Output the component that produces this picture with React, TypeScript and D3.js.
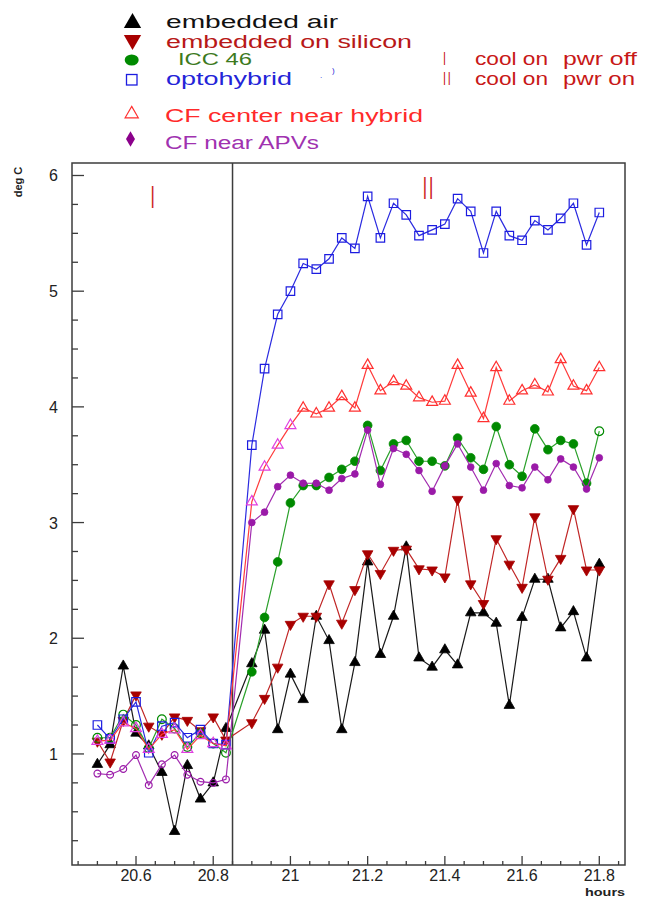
import * as d3 from 'd3'

// hours (2 minute readings, gap around the power switch)
const times = [
  20.5, 20.533, 20.567, 20.6, 20.633, 20.667, 20.7, 20.733, 20.767, 20.8, 20.833,
  20.9, 20.933, 20.967, 21.0, 21.033, 21.067, 21.1, 21.133, 21.167, 21.2, 21.233, 21.267, 21.3,
  21.333, 21.367, 21.4, 21.433, 21.467, 21.5, 21.533, 21.567, 21.6, 21.633, 21.667, 21.7, 21.733,
  21.767, 21.8,
]

const embeddedAir = [
  0.91, 1.08, 1.76, 1.18, 1.07, 0.84, 0.33, 0.9, 0.61, 0.75, 1.22,
  1.78, 2.07, 1.21, 1.69, 1.47, 2.19, 1.98, 1.21, 1.79, 2.66, 1.86, 2.19, 2.79,
  1.83, 1.75, 1.9, 1.77, 2.22, 2.22, 2.13, 1.42, 2.18, 2.51, 2.51, 2.09, 2.23, 1.83, 2.64,
]
const embeddedSilicon = [
  1.11, 0.93, 1.29, 1.51, 1.24, 1.17, 1.32, 1.29, 1.2, 1.32, 1.12,
  1.27, 1.48, 1.75, 2.12, 2.19, 2.19, 2.47, 2.13, 2.42, 2.73, 2.56, 2.76, 2.77,
  2.6, 2.59, 2.53, 3.2, 2.47, 2.3, 2.86, 2.64, 2.44, 3.05, 2.51, 2.69, 3.12, 2.59, 2.59,
]
const icc46 = [
  1.14, 1.14, 1.34, 1.25, 1.05, 1.3, 1.22, 1.06, 1.18, 1.09, 1.01,
  1.71, 2.18, 2.66, 3.17, 3.32, 3.32, 3.39, 3.46, 3.53, 3.84, 3.45, 3.68, 3.71,
  3.53, 3.53, 3.49, 3.73, 3.56, 3.46, 3.83, 3.5, 3.4, 3.81, 3.63, 3.71, 3.68, 3.34, 3.79,
]
const optohybrid = [
  1.25, 1.13, 1.3, 1.45, 1.01, 1.24, 1.27, 1.14, 1.21, 1.09, 1.08,
  3.67, 4.33, 4.8, 5.0, 5.24, 5.19, 5.28, 5.46, 5.37, 5.82, 5.46, 5.76, 5.66,
  5.48, 5.53, 5.58, 5.8, 5.69, 5.33, 5.69, 5.48, 5.44, 5.61, 5.53, 5.63, 5.76, 5.4, 5.68,
]
const cfCenterHybrid = [
  1.11, 1.12, 1.27, 1.22, 1.04, 1.17, 1.21, 1.04, 1.16, 1.09, 1.07,
  3.18, 3.48, 3.67, 3.84, 3.99, 3.94, 3.99, 4.09, 3.99, 4.36, 4.14, 4.22, 4.18,
  4.08, 4.04, 4.05, 4.36, 4.12, 3.9, 4.34, 4.05, 4.14, 4.19, 4.13, 4.41, 4.18, 4.14, 4.34,
]
const cfNearApvs = [
  0.83, 0.82, 0.87, 0.99, 0.73, 0.91, 0.99, 0.82, 0.76, 0.75, 0.78,
  3.0, 3.09, 3.31, 3.41, 3.34, 3.34, 3.28, 3.38, 3.42, 3.8, 3.33, 3.64, 3.59,
  3.45, 3.27, 3.49, 3.68, 3.48, 3.28, 3.51, 3.32, 3.3, 3.48, 3.37, 3.55, 3.48, 3.29, 3.56,
]

const yTicks = [1, 2, 3, 4, 5, 6]
const xTicks = [20.6, 20.8, 21, 21.2, 21.4, 21.6, 21.8]
const powerOnAt = 20.85

const x = d3.scaleLinear().domain([20.4342, 21.8666]).range([72, 625])
const y = d3.scaleLinear().domain([0.04, 6.108]).range([865, 163])

const FONT = '"Liberation Sans", Arial, sans-serif'
const PRE = 11 // readings before the switch

type Marker = 'up' | 'down' | 'circle' | 'square' | 'diamond'
interface Series {
  values: number[]
  line: string
  mark: string
  marker: Marker
  size: number
  filled: (i: number) => boolean
  markColor?: (i: number) => string
}

const series: Series[] = [
  { values: embeddedAir, line: '#1a1a1a', mark: '#000', marker: 'up', size: 48, filled: () => true },
  { values: embeddedSilicon, line: '#c02626', mark: '#a80000', marker: 'down', size: 48, filled: () => true },
  { values: icc46, line: '#2aa02a', mark: '#008a00', marker: 'circle', size: 60, filled: i => i >= PRE && i < times.length - 1 },
  { values: optohybrid, line: '#2b2be0', mark: '#1c1ce0', marker: 'square', size: 72, filled: () => false },
  {
    values: cfCenterHybrid, line: '#ff3b3b', mark: '#ff3030', marker: 'up', size: 52, filled: () => false,
    markColor: i => (i < PRE + 4 ? '#e040e0' : '#ff3030'),
  },
  { values: cfNearApvs, line: '#a22cb0', mark: '#9a1aa8', marker: 'circle', size: 36, filled: i => i >= PRE },
]

function symbolPath(m: Marker, size: number) {
  const t = m === 'up' || m === 'down' ? d3.symbolTriangle
    : m === 'circle' ? d3.symbolCircle
    : m === 'square' ? d3.symbolSquare : d3.symbolDiamond
  return d3.symbol().type(t).size(size)() || ''
}

function Chart() {
  const minorY = d3.range(0.25, 6.01, 0.25)
  const minorX = d3.range(20.45, 21.86, 0.05)
  const stretch = 'spacingAndGlyphs'

  return (
    <svg width={648} height={900} style={{ position: 'absolute', left: 0, top: 0, background: '#fff' }} fontFamily={FONT}>
      <rect x={0} y={0} width={648} height={900} fill="#fff" />

      {/* legend */}
      <g>
        <path d={symbolPath('up', 130)} transform="translate(132.5,23)" fill="#000" />
        <text x={166} y={28.3} fontSize={18} fill="#111" textLength={172} lengthAdjust={stretch}>embedded air</text>

        <path d={symbolPath('up', 130)} transform="translate(132.5,40) rotate(180)" fill="#a80000" />
        <text x={166} y={47.7} fontSize={18} fill="#b81818" textLength={246} lengthAdjust={stretch}>embedded on silicon</text>

        <ellipse cx={131.7} cy={60} rx={7} ry={5.5} fill="#008a00" />
        <text x={178} y={65} fontSize={16} fill="#3d7a1e" textLength={74} lengthAdjust={stretch}>ICC 46</text>

        <rect x={126.5} y={74.5} width={10.5} height={10.5} fill="none" stroke="#1c1ce0" strokeWidth={1.3} />
        <text x={166} y={85} fontSize={18} fill="#2424d8" textLength={126} lengthAdjust={stretch}>optohybrid</text>
        <text x={320} y={78} fontSize={8} fill="#2424d8">.</text>
        <text x={332} y={73} fontSize={8} fill="#2424d8">)</text>

        <path d={symbolPath('up', 75)} transform="translate(131.7,114)" fill="none" stroke="#ff3030" strokeWidth={1.2} />
        <text x={165} y={121.7} fontSize={18} fill="#ff2a2a" textLength={258} lengthAdjust={stretch}>CF center near hybrid</text>

        <path d={symbolPath('diamond', 70)} transform="translate(130.5,139)" fill="#8b008b" />
        <text x={165} y={149} fontSize={18} fill="#a032b0" textLength={154} lengthAdjust={stretch}>CF near APVs</text>

        <g fill="#c81818" fontSize={18}>
          <text transform="scale(0.6,1)" x={443 / 0.6} y={65}>I</text>
          <text x={475} y={65} textLength={73} lengthAdjust={stretch}>cool on</text>
          <text x={563} y={65} textLength={74} lengthAdjust={stretch}>pwr off</text>
          <text transform="scale(0.6,1)" x={443 / 0.6} y={85} letterSpacing={3}>II</text>
          <text x={475} y={85} textLength={73} lengthAdjust={stretch}>cool on</text>
          <text x={563} y={85} textLength={72} lengthAdjust={stretch}>pwr on</text>
        </g>
      </g>

      {/* frame */}
      <rect x={72} y={163} width={553} height={702} fill="none" stroke="#3c3c3c" strokeWidth={1.5} />
      <line x1={x(powerOnAt)} x2={x(powerOnAt)} y1={163} y2={865} stroke="#3c3c3c" strokeWidth={1.5} />

      {/* ticks */}
      <g stroke="#3c3c3c" strokeWidth={1.3}>
        {minorY.map(v => (
          <line key={v} x1={72} x2={yTicks.includes(v) ? 84 : 78} y1={y(v)} y2={y(v)} />
        ))}
        {minorX.map(v => {
          const major = xTicks.some(t => Math.abs(t - v) < 1e-6)
          return <line key={v} x1={x(v)} x2={x(v)} y1={865} y2={major ? 856 : 861} />
        })}
      </g>
      <g fontSize={16} fill="#222">
        {yTicks.map(v => (
          <text key={v} x={58} y={y(v) + 6} textAnchor="end">{v}</text>
        ))}
        {xTicks.map(v => (
          <text key={v} x={x(v)} y={881} textAnchor="middle">{d3.format('~g')(v)}</text>
        ))}
      </g>
      <text transform="translate(22,182) rotate(-90)" fontSize={11} fontWeight="bold" fill="#222" textAnchor="middle">deg C</text>
      <text x={625} y={896} fontSize={11} fontWeight="bold" fill="#222" textAnchor="end" textLength={40} lengthAdjust={stretch}>hours</text>

      {/* phase labels */}
      <g fill="#cc2020" fontSize={31}>
        <text transform="scale(0.5,1)" x={x(20.643) / 0.5} y={208} textAnchor="middle">I</text>
        <text transform="scale(0.5,1)" x={x(21.359) / 0.5} y={199} textAnchor="middle" letterSpacing={4}>II</text>
      </g>

      {/* series */}
      {series.map((s, si) => {
        const pts = times.map((t, i) => [t, s.values[i]] as [number, number])
        const line = d3.line<[number, number]>().x(d => x(d[0])).y(d => y(d[1]))
        const path = symbolPath(s.marker, s.size)
        return (
          <g key={si}>
            <path d={line(pts) || ''} fill="none" stroke={s.line} strokeWidth={1.2} />
            {pts.map((d, i) => {
              const c = s.markColor ? s.markColor(i) : s.mark
              const f = s.filled(i)
              const rot = s.marker === 'down' ? ' rotate(180)' : ''
              return (
                <path key={i} d={path} transform={`translate(${x(d[0])},${y(d[1])})${rot}`}
                  fill={f ? c : 'none'} stroke={c} strokeWidth={f ? 0.8 : 1.2} />
              )
            })}
          </g>
        )
      })}
    </svg>
  )
}

export default function App() {
  return <Chart />
}
